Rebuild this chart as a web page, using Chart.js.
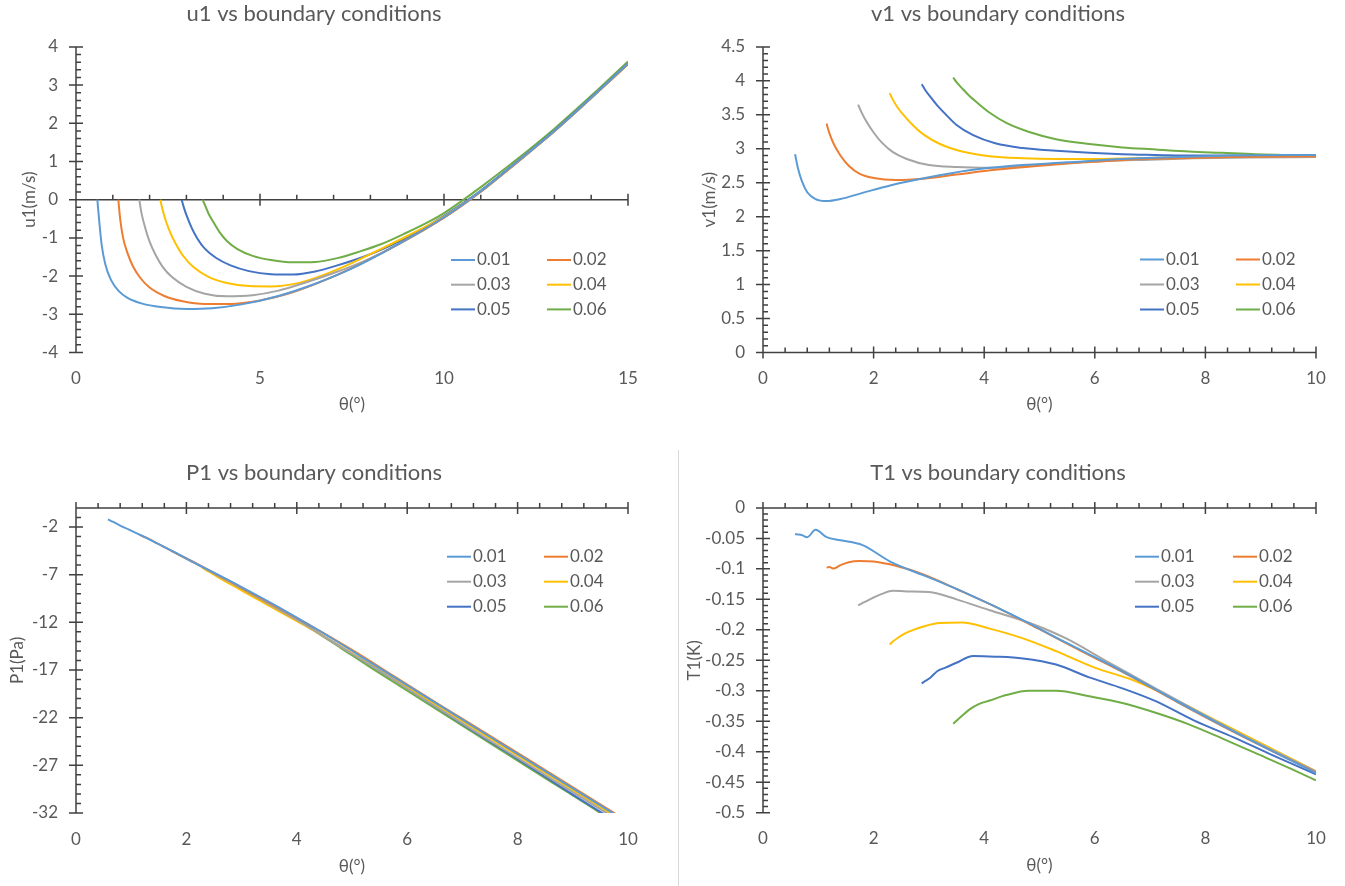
<!DOCTYPE html>
<html>
<head>
<meta charset="utf-8">
<title>Boundary conditions</title>
<script src="https://cdn.jsdelivr.net/npm/chart.js@4.4.1/dist/chart.umd.min.js"></script>
<style>
  html, body { margin: 0; padding: 0; background: #fff; }
  body { width: 1345px; height: 886px; position: relative; overflow: hidden; }
  canvas { position: absolute; }
  .divider { position: absolute; left: 678px; top: 450px; width: 1px; height: 436px; background: #d9d9d9; }
</style>
</head>
<body>
<canvas id="u1Chart" width="670" height="440" style="left:0;top:0"></canvas>
<canvas id="v1Chart" width="665" height="440" style="left:680px;top:0"></canvas>
<canvas id="p1Chart" width="670" height="440" style="left:0;top:446px"></canvas>
<canvas id="t1Chart" width="665" height="440" style="left:680px;top:446px"></canvas>
<div class="divider"></div>

<script>
// boundary condition series
const seriesLabels = ['0.01', '0.02', '0.03', '0.04', '0.05', '0.06'];
const seriesColors = ['#5B9BD5', '#ED7D31', '#A5A5A5', '#FFC000', '#4472C4', '#70AD47'];

// θ (deg) sample points for each series (first 17 points go up to 10)
const theta01 = [0.58, 0.63, 0.7, 0.8, 0.95, 1.15, 1.4, 1.8, 2.3, 3.0, 3.7, 4.5, 5.5, 6.5, 7.5, 8.5, 10, 11, 12, 13, 14, 15];
const theta02 = [1.15, 1.2, 1.28, 1.4, 1.55, 1.75, 2.0, 2.4, 2.9, 3.5, 4.2, 5.0, 5.8, 6.6, 7.5, 8.5, 10, 11, 12, 13, 14, 15];
const theta03 = [1.72, 1.78, 1.87, 2.0, 2.15, 2.35, 2.6, 3.0, 3.5, 4.1, 4.8, 5.5, 6.2, 7.0, 7.8, 8.8, 10, 11, 12, 13, 14, 15];
const theta04 = [2.29, 2.35, 2.44, 2.57, 2.72, 2.92, 3.2, 3.6, 4.1, 4.7, 5.3, 6.0, 6.7, 7.4, 8.2, 9.0, 10, 11, 12, 13, 14, 15];
const theta05 = [2.87, 2.93, 3.02, 3.15, 3.3, 3.5, 3.8, 4.2, 4.7, 5.3, 5.9, 6.5, 7.1, 7.8, 8.5, 9.2, 10, 11, 12, 13, 14, 15];
const theta06 = [3.44, 3.5, 3.6, 3.73, 3.9, 4.1, 4.4, 4.8, 5.3, 5.9, 6.5, 7.1, 7.7, 8.3, 8.9, 9.5, 10, 11, 12, 13, 14, 15];
const thetas = [theta01, theta02, theta03, theta04, theta05, theta06];

// u1 (m/s)
const u1_01 = [0, -0.55, -1.2, -1.7, -2.1, -2.38, -2.57, -2.72, -2.81, -2.86, -2.84, -2.74, -2.52, -2.2, -1.8, -1.3, -0.46, 0.22, 1.0, 1.8, 2.67, 3.56];
const u1_02 = [0, -0.5, -1.0, -1.4, -1.75, -2.05, -2.3, -2.52, -2.66, -2.73, -2.73, -2.64, -2.45, -2.17, -1.79, -1.3, -0.47, 0.21, 0.99, 1.79, 2.66, 3.55];
const u1_03 = [0, -0.35, -0.7, -1.1, -1.42, -1.75, -2.02, -2.28, -2.46, -2.53, -2.5, -2.38, -2.18, -1.92, -1.62, -1.15, -0.47, 0.21, 0.99, 1.79, 2.66, 3.55];
const u1_04 = [0, -0.25, -0.55, -0.88, -1.17, -1.48, -1.77, -2.02, -2.18, -2.26, -2.27, -2.19, -1.98, -1.7, -1.33, -0.95, -0.44, 0.22, 0.99, 1.79, 2.66, 3.55];
const u1_05 = [0, -0.2, -0.45, -0.75, -1.02, -1.28, -1.52, -1.72, -1.87, -1.95, -1.96, -1.88, -1.72, -1.5, -1.22, -0.88, -0.42, 0.24, 1.01, 1.81, 2.68, 3.57];
const u1_06 = [0, -0.13, -0.36, -0.58, -0.85, -1.08, -1.3, -1.47, -1.58, -1.64, -1.63, -1.53, -1.36, -1.16, -0.9, -0.62, -0.35, 0.33, 1.07, 1.86, 2.72, 3.62];

// v1 (m/s)
const v1_01 = [2.92, 2.72, 2.53, 2.36, 2.26, 2.23, 2.26, 2.35, 2.46, 2.58, 2.68, 2.75, 2.8, 2.85, 2.88, 2.9, 2.91];
const v1_02 = [3.37, 3.23, 3.07, 2.9, 2.75, 2.63, 2.57, 2.54, 2.56, 2.62, 2.69, 2.75, 2.8, 2.84, 2.86, 2.88, 2.89];
const v1_03 = [3.65, 3.54, 3.4, 3.24, 3.09, 2.95, 2.85, 2.76, 2.73, 2.72, 2.75, 2.79, 2.82, 2.84, 2.86, 2.87, 2.88];
const v1_04 = [3.82, 3.72, 3.6, 3.47, 3.34, 3.2, 3.07, 2.96, 2.89, 2.86, 2.85, 2.85, 2.86, 2.87, 2.88, 2.88, 2.89];
const v1_05 = [3.95, 3.87, 3.77, 3.64, 3.51, 3.35, 3.2, 3.08, 3.01, 2.97, 2.94, 2.92, 2.91, 2.9, 2.9, 2.89, 2.88];
const v1_06 = [4.05, 3.98, 3.89, 3.78, 3.66, 3.53, 3.38, 3.25, 3.14, 3.07, 3.02, 2.99, 2.96, 2.94, 2.92, 2.91, 2.9];

// P1 (Pa)
const p1_01 = [-1.2, -1.35, -1.55, -1.85, -2.25, -2.8, -3.5, -4.7, -6.2, -8.3, -10.5, -13.2, -16.8, -20.4, -24.0, -27.6, -33.0];
const p1_02 = [-2.8, -2.95, -3.15, -3.5, -3.95, -4.55, -5.3, -6.5, -8.05, -9.95, -12.2, -14.9, -17.8, -20.7, -23.9, -27.5, -32.9];
const p1_03 = [-4.5, -4.65, -4.95, -5.35, -5.8, -6.4, -7.2, -8.45, -10.1, -12.1, -14.6, -17.1, -19.7, -22.6, -25.5, -29.1, -33.4];
const p1_04 = [-6.3, -6.5, -6.8, -7.25, -7.75, -8.4, -9.3, -10.6, -12.2, -14.2, -16.3, -18.8, -21.3, -23.8, -26.7, -29.6, -33.2];
const p1_05 = [-8.1, -8.3, -8.6, -9.0, -9.5, -10.15, -11.1, -12.45, -14.2, -16.35, -18.55, -20.8, -23.05, -25.6, -28.2, -30.8, -33.7];
const p1_06 = [-9.75, -9.95, -10.3, -10.75, -11.3, -12.0, -13.2, -14.7, -16.6, -18.8, -21.0, -23.2, -25.4, -27.6, -29.8, -32.0, -33.9];
const p1Ticks = [-32, -27, -22, -17, -12, -7, -2];

// T1 (K)
const t1_01 = [-0.043, -0.0435, -0.0445, -0.048, -0.036, -0.048, -0.053, -0.061, -0.088, -0.114, -0.141, -0.175, -0.222, -0.268, -0.318, -0.366, -0.435];
const t1_02 = [-0.098, -0.097, -0.0995, -0.094, -0.089, -0.087, -0.088, -0.095, -0.109, -0.133, -0.162, -0.199, -0.237, -0.274, -0.319, -0.367, -0.434];
const t1_03 = [-0.16, -0.157, -0.153, -0.147, -0.141, -0.136, -0.137, -0.138, -0.15, -0.168, -0.188, -0.215, -0.251, -0.291, -0.331, -0.379, -0.432];
const t1_04 = [-0.224, -0.219, -0.213, -0.206, -0.2, -0.194, -0.189, -0.188, -0.198, -0.214, -0.235, -0.262, -0.283, -0.312, -0.349, -0.386, -0.432];
const t1_05 = [-0.288, -0.284, -0.279, -0.268, -0.262, -0.254, -0.243, -0.244, -0.247, -0.257, -0.278, -0.296, -0.317, -0.349, -0.376, -0.405, -0.437];
const t1_06 = [-0.354, -0.349, -0.341, -0.331, -0.322, -0.316, -0.307, -0.3, -0.3, -0.309, -0.32, -0.336, -0.355, -0.378, -0.402, -0.426, -0.447];

const textColor = '#595959';
const axisColor = '#404040';
Chart.defaults.font.family = 'Lato, "Open Sans", sans-serif';
Chart.defaults.color = textColor;

// Excel style axes: lines crossing at 0, major ticks crossing, minor ticks
const excelAxes = {
    id: 'excelAxes',
    beforeDatasetsDraw(chart, args, opts) {
        const { ctx, chartArea: a, scales: { x, y } } = chart;
        const y0 = y.getPixelForValue(Math.min(Math.max(0, y.min), y.max));
        const x0 = x.getPixelForValue(Math.max(0, x.min));
        ctx.save();
        ctx.strokeStyle = axisColor;
        ctx.lineWidth = 1.5;
        ctx.beginPath();
        ctx.moveTo(a.left, y0); ctx.lineTo(a.right, y0);
        ctx.moveTo(x0, a.top); ctx.lineTo(x0, a.bottom);

        const nx = Math.round((x.max - x.min) / opts.minorX);
        for (let i = 0; i <= nx; i++) {
            const p = x.getPixelForValue(x.min + i * opts.minorX);
            ctx.moveTo(p, y0 - 5); ctx.lineTo(p, y0);
        }
        const ny = Math.round((y.max - y.min) / opts.minorY);
        for (let i = 0; i <= ny; i++) {
            const p = y.getPixelForValue(y.min + i * opts.minorY);
            ctx.moveTo(x0, p); ctx.lineTo(x0 + 5, p);
        }
        x.ticks.forEach(t => {
            const p = x.getPixelForValue(t.value);
            ctx.moveTo(p, y0 - 6); ctx.lineTo(p, y0 + 6);
        });
        y.ticks.forEach(t => {
            const p = y.getPixelForValue(t.value);
            ctx.moveTo(x0 - 7, p); ctx.lineTo(x0 + 7, p);
        });
        ctx.stroke();
        ctx.restore();
    }
};

// two column legend inside the plot
const gridLegend = {
    id: 'gridLegend',
    afterDraw(chart, args, opts) {
        const ctx = chart.ctx;
        ctx.save();
        ctx.font = '17px Lato, "Open Sans", sans-serif';
        ctx.textBaseline = 'middle';
        ctx.fillStyle = textColor;
        chart.data.datasets.forEach((ds, i) => {
            const lx = opts.x + (i % 2) * opts.colGap;
            const ly = opts.y + Math.floor(i / 2) * opts.rowGap;
            ctx.strokeStyle = ds.borderColor;
            ctx.lineWidth = 2;
            ctx.beginPath();
            ctx.moveTo(lx, ly); ctx.lineTo(lx + 24, ly);
            ctx.stroke();
            ctx.fillText(ds.label, lx + 26, ly);
        });
        ctx.restore();
    }
};

function buildDatasets(valueSets) {
    return valueSets.map((vals, i) => ({
        label: seriesLabels[i],
        data: vals.map((v, j) => ({ x: thetas[i][j], y: v })),
        borderColor: seriesColors[i],
        backgroundColor: seriesColors[i],
        borderWidth: 2,
        pointRadius: 0,
        cubicInterpolationMode: 'monotone',
        fill: false
    }));
}

const fmt = v => String(Math.round(v * 1000) / 1000);

function makeChart(id, c) {
    const yTicks = { padding: 18, font: { size: 17 }, callback: fmt };
    if (c.yStep) yTicks.stepSize = c.yStep;
    return new Chart(document.getElementById(id), {
        type: 'line',
        data: { datasets: buildDatasets(c.values) },
        options: {
            responsive: false,
            animation: false,
            layout: { padding: { left: 0, top: 0, right: c.padRight, bottom: 0 } },
            plugins: {
                legend: { display: false },
                tooltip: { enabled: false },
                title: {
                    display: true,
                    text: c.title,
                    color: textColor,
                    font: { size: 22, weight: 'normal' },
                    padding: { top: c.titleTop, bottom: c.titleBottom }
                },
                excelAxes: { minorX: c.minorX, minorY: c.minorY },
                gridLegend: c.legend
            },
            scales: {
                x: {
                    type: 'linear',
                    min: 0, max: c.xMax,
                    grid: { display: false, drawTicks: false },
                    border: { display: false },
                    ticks: { stepSize: c.xStep, padding: c.xLabelPad, font: { size: 17 }, callback: fmt, maxRotation: 0 },
                    title: { display: true, text: 'θ(°)', color: textColor, font: { size: 17 }, padding: { top: 0, bottom: c.xTitleBottom } },
                    afterFit: s => { s.height = c.xHeight; }
                },
                y: {
                    min: c.yMin, max: c.yMax,
                    grid: { display: false, drawTicks: false },
                    border: { display: false },
                    ticks: yTicks,
                    afterBuildTicks: c.yTickValues ? s => { s.ticks = c.yTickValues.map(v => ({ value: v })); } : undefined,
                    title: { display: true, text: c.yTitle, color: textColor, font: { size: 17 }, padding: { top: c.yTitleTop, bottom: 0 } },
                    afterFit: s => { s.width = c.yWidth; }
                }
            }
        },
        plugins: [excelAxes, gridLegend]
    });
}

makeChart('u1Chart', {
    title: 'u1 vs boundary conditions', yTitle: 'u1(m/s)',
    values: [u1_01, u1_02, u1_03, u1_04, u1_05, u1_06],
    xMax: 15, xStep: 5, yMin: -4, yMax: 4, yStep: 1, minorX: 1, minorY: 0.2,
    padRight: 42, titleTop: 0.5, titleBottom: 20, xHeight: 87.5, xLabelPad: 16, xTitleBottom: 25,
    yWidth: 76, yTitleTop: 19,
    legend: { x: 451, y: 260, colGap: 96, rowGap: 24.7 }
});

makeChart('v1Chart', {
    title: 'v1 vs boundary conditions', yTitle: 'v1(m/s)',
    values: [v1_01, v1_02, v1_03, v1_04, v1_05, v1_06],
    xMax: 10, xStep: 2, yMin: 0, yMax: 4.5, yStep: 0.5, minorX: 0.4, minorY: 0.1,
    padRight: 29, titleTop: 0.5, titleBottom: 20, xHeight: 87.5, xLabelPad: 16, xTitleBottom: 25,
    yWidth: 83, yTitleTop: 19,
    legend: { x: 460, y: 259.5, colGap: 96, rowGap: 25 }
});

makeChart('p1Chart', {
    title: 'P1 vs boundary conditions', yTitle: 'P1(Pa)',
    values: [p1_01, p1_02, p1_03, p1_04, p1_05, p1_06],
    xMax: 10, xStep: 2, yMin: -32, yMax: 0, yTickValues: p1Ticks, minorX: 0.4, minorY: 1,
    padRight: 42, titleTop: 13.5, titleBottom: 22, xHeight: 73, xLabelPad: 16, xTitleBottom: 9,
    yWidth: 76, yTitleTop: 7,
    legend: { x: 447, y: 110.7, colGap: 97, rowGap: 25 }
});

makeChart('t1Chart', {
    title: 'T1 vs boundary conditions', yTitle: 'T1(K)',
    values: [t1_01, t1_02, t1_03, t1_04, t1_05, t1_06],
    xMax: 10, xStep: 2, yMin: -0.5, yMax: 0, yStep: 0.05, minorX: 0.4, minorY: 0.01,
    padRight: 29, titleTop: 13.5, titleBottom: 22, xHeight: 73.3, xLabelPad: 16, xTitleBottom: 10,
    yWidth: 83, yTitleTop: 4,
    legend: { x: 455, y: 110.7, colGap: 98, rowGap: 25 }
});
</script>
</body>
</html>
